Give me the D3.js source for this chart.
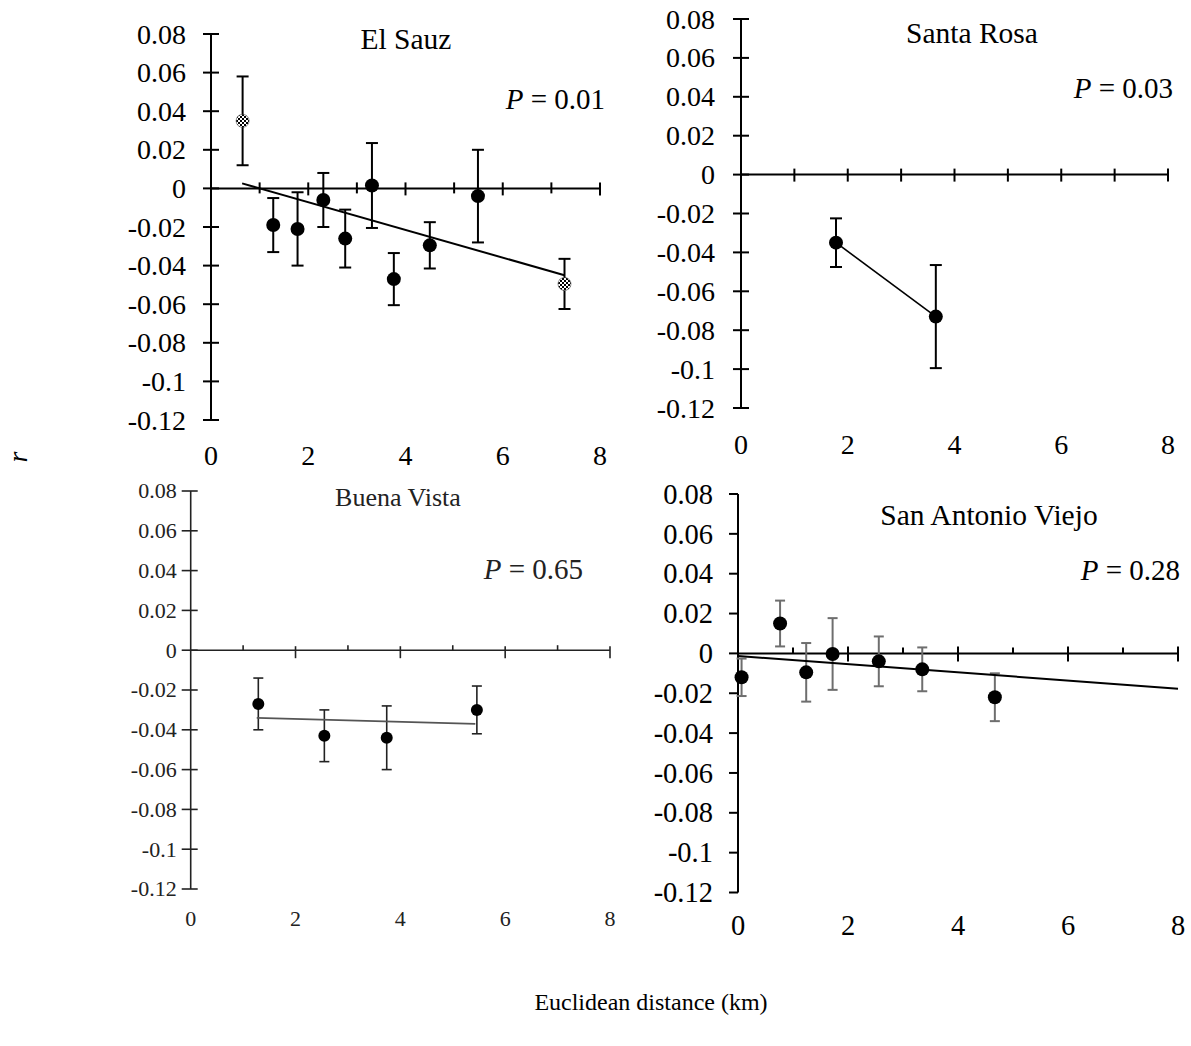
<!DOCTYPE html>
<html>
<head>
<meta charset="utf-8">
<script src="https://cdn.jsdelivr.net/npm/d3@7"></script>
<style>
  html, body { margin: 0; padding: 0; background: #fff; }
  svg { display: block; }
  text { font-family: "Liberation Serif", "Times New Roman", serif; }
</style>
</head>
<body>
<svg id="fig" width="1191" height="1046"></svg>
<script>
// Shared axis ticks
const yTickValues = [0.08, 0.06, 0.04, 0.02, 0, -0.02, -0.04, -0.06, -0.08, -0.1, -0.12];
const yTickLabels = ["0.08", "0.06", "0.04", "0.02", "0", "-0.02", "-0.04", "-0.06", "-0.08", "-0.1", "-0.12"];
const xTickValues = [1, 2, 3, 4, 5, 6, 7, 8];
const xLabelValues = [0, 2, 4, 6, 8];
const xLabelText = ["0", "2", "4", "6", "8"];

// El Sauz: mean r per distance class, with error half-widths
const elSauzDist = [0.65, 1.28, 1.78, 2.31, 2.76, 3.31, 3.76, 4.50, 5.49, 7.27];
const elSauzR    = [0.035, -0.019, -0.021, -0.006, -0.026, 0.0015, -0.047, -0.0295, -0.004, -0.0495];
const elSauzErr  = [0.023, 0.014, 0.019, 0.014, 0.015, 0.022, 0.0135, 0.012, 0.024, 0.013];
const elSauzHatched = [true, false, false, false, false, false, false, false, false, true];
const elSauzTrend = [[0.64, 0.0026], [7.27, -0.045]];

// Santa Rosa
const santaRosaDist = [1.78, 3.65];
const santaRosaR    = [-0.035, -0.073];
const santaRosaErr  = [0.0125, 0.0265];

// Buena Vista
const buenaVistaDist = [1.29, 2.55, 3.74, 5.46];
const buenaVistaR    = [-0.027, -0.043, -0.044, -0.030];
const buenaVistaErr  = [0.013, 0.013, 0.016, 0.012];
const buenaVistaTrend = [[1.26, -0.034], [5.43, -0.037]];

// San Antonio Viejo
const sanAntonioDist = [0.065, 0.765, 1.24, 1.72, 2.56, 3.35, 4.67];
const sanAntonioR    = [-0.012, 0.015, -0.0095, -0.0003, -0.004, -0.008, -0.022];
const sanAntonioErr  = [0.0094, 0.0115, 0.0147, 0.018, 0.0125, 0.011, 0.012];
const sanAntonioTrend = [[0, -0.0013], [8, -0.0177]];

const svg = d3.select("#fig");

// checkered fill for the end classes
const defs = svg.append("defs");
const pat = defs.append("pattern").attr("id", "checker")
  .attr("width", 4).attr("height", 4).attr("patternUnits", "userSpaceOnUse");
pat.append("rect").attr("width", 4).attr("height", 4).attr("fill", "#fff");
pat.append("rect").attr("width", 2).attr("height", 2).attr("fill", "#000");
pat.append("rect").attr("x", 2).attr("y", 2).attr("width", 2).attr("height", 2).attr("fill", "#000");

const panels = [
  {
    title: "El Sauz", pval: "0.01",
    dist: elSauzDist, r: elSauzR, err: elSauzErr, hatched: elSauzHatched, trend: elSauzTrend,
    x0: 211, x1: 600, yTop: 34, yBot: 420,
    font: 28, titleSize: 29.5, pSize: 29, color: "#000", lw: 2, errColor: "#000", trendColor: "#000", trendW: 2,
    dotR: 7, cap: 12,
    yTick: [8, 8], xMajor: [6, 7], xMinor: [6, 5],
    yLabelGap: 25, xLabelY: 465,
    titleX: 406, titleY: 49, pX: 605, pY: 109
  },
  {
    title: "Santa Rosa", pval: "0.03",
    dist: santaRosaDist, r: santaRosaR, err: santaRosaErr, connect: true,
    x0: 741, x1: 1168, yTop: 19, yBot: 408,
    font: 28, titleSize: 29.5, pSize: 29, color: "#000", lw: 2, errColor: "#000", trendColor: "#000", trendW: 1.6,
    dotR: 7, cap: 12,
    yTick: [8, 8], xMajor: [6, 7], xMinor: [6, 7],
    yLabelGap: 26, xLabelY: 454,
    titleX: 972, titleY: 43, pX: 1173, pY: 98
  },
  {
    title: "Buena Vista", pval: "0.65",
    dist: buenaVistaDist, r: buenaVistaR, err: buenaVistaErr, trend: buenaVistaTrend,
    x0: 190.7, x1: 610, yTop: 491, yBot: 889,
    font: 22, titleSize: 26, pSize: 29, color: "#222", lw: 1.6, errColor: "#222", trendColor: "#555", trendW: 1.8,
    dotR: 6, cap: 10,
    yTick: [9, 7], xMajor: [4, 8], xMinor: [5, 0],
    yLabelGap: 14, xLabelY: 926,
    titleX: 398, titleY: 506, pX: 583, pY: 579
  },
  {
    title: "San Antonio Viejo", pval: "0.28",
    dist: sanAntonioDist, r: sanAntonioR, err: sanAntonioErr, trend: sanAntonioTrend,
    x0: 738, x1: 1178, yTop: 494, yBot: 892.5,
    font: 28.5, titleSize: 29.5, pSize: 29, color: "#000", lw: 2, errColor: "#6e6e6e", trendColor: "#000", trendW: 2,
    dotR: 7, cap: 10,
    yTick: [9, 0], xMajor: [7, 8], xMinor: [6, 0],
    yLabelGap: 25, xLabelY: 935,
    titleX: 989, titleY: 525, pX: 1180, pY: 580
  }
];

function drawPanel(p) {
  const x = d3.scaleLinear().domain([0, 8]).range([p.x0, p.x1]);
  const y = d3.scaleLinear().domain([-0.12, 0.08]).range([p.yBot, p.yTop]);
  const g = svg.append("g");
  const ink = p.color;

  // axes: vertical r axis at distance 0, horizontal distance axis at r = 0
  g.append("line")
    .attr("x1", x(0)).attr("x2", x(0)).attr("y1", y(0.08)).attr("y2", y(-0.12))
    .attr("stroke", ink).attr("stroke-width", p.lw);
  g.append("line")
    .attr("x1", x(0)).attr("x2", x(8)).attr("y1", y(0)).attr("y2", y(0))
    .attr("stroke", ink).attr("stroke-width", p.lw);

  g.selectAll("line.ytick").data(yTickValues).join("line").attr("class", "ytick")
    .attr("x1", x(0) - p.yTick[0]).attr("x2", x(0) + p.yTick[1])
    .attr("y1", d => y(d)).attr("y2", d => y(d))
    .attr("stroke", ink).attr("stroke-width", p.lw);

  g.selectAll("line.xtick").data(xTickValues).join("line").attr("class", "xtick")
    .attr("x1", d => x(d)).attr("x2", d => x(d))
    .attr("y1", d => y(0) - (d % 2 ? p.xMinor[0] : p.xMajor[0]))
    .attr("y2", d => y(0) + (d % 2 ? p.xMinor[1] : p.xMajor[1]))
    .attr("stroke", ink).attr("stroke-width", p.lw);

  g.selectAll("text.ylab").data(yTickValues).join("text").attr("class", "ylab")
    .attr("x", x(0) - p.yLabelGap).attr("y", d => y(d)).attr("dy", "0.34em")
    .attr("text-anchor", "end").attr("font-size", p.font).attr("fill", ink)
    .text((d, i) => yTickLabels[i]);

  g.selectAll("text.xlab").data(xLabelValues).join("text").attr("class", "xlab")
    .attr("x", d => x(d)).attr("y", p.xLabelY)
    .attr("text-anchor", "middle").attr("font-size", p.font).attr("fill", ink)
    .text((d, i) => xLabelText[i]);

  const pts = p.dist.map((d, i) => ({
    d: d, r: p.r[i], e: p.err[i], hatched: p.hatched ? p.hatched[i] : false
  }));

  // error bars
  const eb = g.selectAll("g.eb").data(pts).join("g").attr("class", "eb")
    .attr("stroke", p.errColor).attr("stroke-width", p.lw);
  eb.append("line")
    .attr("x1", v => x(v.d)).attr("x2", v => x(v.d))
    .attr("y1", v => y(v.r + v.e)).attr("y2", v => y(v.r - v.e));
  eb.append("line")
    .attr("x1", v => x(v.d) - p.cap / 2).attr("x2", v => x(v.d) + p.cap / 2)
    .attr("y1", v => y(v.r + v.e)).attr("y2", v => y(v.r + v.e));
  eb.append("line")
    .attr("x1", v => x(v.d) - p.cap / 2).attr("x2", v => x(v.d) + p.cap / 2)
    .attr("y1", v => y(v.r - v.e)).attr("y2", v => y(v.r - v.e));

  // fitted trend or connecting line
  const line = d3.line().x(v => x(v[0])).y(v => y(v[1]));
  if (p.trend) {
    g.append("path").attr("d", line(p.trend))
      .attr("fill", "none").attr("stroke", p.trendColor).attr("stroke-width", p.trendW);
  }
  if (p.connect) {
    g.append("path").attr("d", line(pts.map(v => [v.d, v.r])))
      .attr("fill", "none").attr("stroke", p.trendColor).attr("stroke-width", p.trendW);
  }

  // class means
  g.selectAll("circle.pt").data(pts).join("circle").attr("class", "pt")
    .attr("cx", v => x(v.d)).attr("cy", v => y(v.r))
    .attr("r", v => v.hatched ? p.dotR - 0.5 : p.dotR)
    .attr("fill", v => v.hatched ? "url(#checker)" : "#000")
    .attr("stroke", v => v.hatched ? "#444" : "none").attr("stroke-width", 0.6);

  // panel title and P value
  g.append("text").attr("x", p.titleX).attr("y", p.titleY)
    .attr("text-anchor", "middle").attr("font-size", p.titleSize).attr("fill", ink)
    .text(p.title);
  const pt = g.append("text").attr("x", p.pX).attr("y", p.pY)
    .attr("text-anchor", "end").attr("font-size", p.pSize).attr("fill", ink);
  pt.append("tspan").attr("font-style", "italic").text("P");
  pt.append("tspan").text(" = " + p.pval);
}

panels.forEach(drawPanel);

// shared axis titles
svg.append("text")
  .attr("transform", "translate(27,457) rotate(-90)")
  .attr("text-anchor", "middle").attr("font-size", 28).attr("font-style", "italic")
  .text("r");
svg.append("text")
  .attr("x", 651).attr("y", 1010)
  .attr("text-anchor", "middle").attr("font-size", 24)
  .text("Euclidean distance (km)");
</script>
</body>
</html>
